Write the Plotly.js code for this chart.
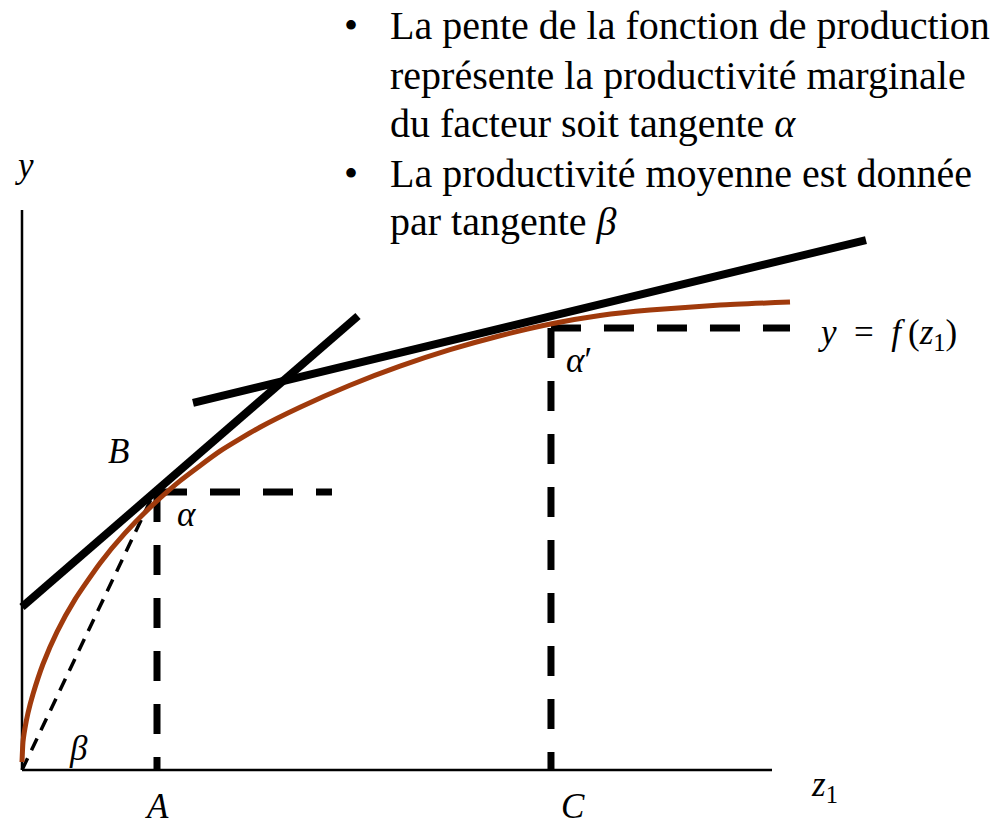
<!DOCTYPE html>
<html>
<head>
<meta charset="utf-8">
<script src="https://cdn.plot.ly/plotly-3.0.1.min.js"></script>
<style>
  html, body { margin: 0; padding: 0; background: #ffffff; }
  #chart { width: 1008px; height: 825px; }
</style>
</head>
<body>
<div id="chart"></div>
<script>
// Production function y = f(z1), in schematic units (axes run from 0 to 10)
const curveZ = [0, 0.013, 0.04, 0.08, 0.147, 0.28, 0.467, 0.707, 1.04, 1.373, 1.747, 2.107, 2.64, 3.173, 3.707, 4.373, 5.04, 5.707, 6.373, 7.08, 7.707, 8.373, 9.307, 10.24];
const curveY = [0.143, 0.5, 0.75, 1.018, 1.357, 1.893, 2.468, 3.046, 3.693, 4.229, 4.739, 5.164, 5.693, 6.121, 6.479, 6.871, 7.211, 7.505, 7.755, 7.973, 8.116, 8.214, 8.302, 8.357];

// Axis extents
const axisZ = [0, 10];
const axisY = [0, 10];

// Points A and C on the z1 axis and their outputs
const zA = 1.8;
const yA = 4.964;
const zC = 7.053;
const yC = 7.893;
const guideEndA = 4.133;
const guideEndC = 10.24;

// Tangent at B (slope = marginal productivity, angle alpha)
const tanBZ = [0, 4.48];
const tanBY = [2.91, 8.107];
// Tangent near C (angle alpha')
const tanCZ = [2.28, 11.253];
const tanCY = [6.554, 9.464];
// Ray from the origin to B (average productivity, angle beta)
const rayZ = [0, 1.747];
const rayY = [0, 4.911];

const bullets = [
  'La pente de la fonction de production',
  'représente la productivité marginale',
  'du facteur soit tangente <i>α</i>',
  'La productivité moyenne est donnée',
  'par tangente <i>β</i>'
];
const bulletStarts = [true, false, false, true, false];

const W = 1008, H = 825;
const px = x => x / W;
const py = y => 1 - y / H;

const black = '#000000';
const brown = '#a03a0c';

const traces = [
  // axes
  { x: [axisZ[0], axisZ[0]], y: axisY, mode: 'lines', line: { color: black, width: 2.5 } },
  { x: axisZ, y: [axisY[0], axisY[0]], mode: 'lines', line: { color: black, width: 2.5 } },
  // dashed guides at A
  { x: [zA, zA], y: [yA, 0], mode: 'lines', line: { color: black, width: 7, dash: '30px,23px' } },
  { x: [zA, guideEndA], y: [yA, yA], mode: 'lines', line: { color: black, width: 7, dash: '30px,23px' } },
  // dashed guides at C
  { x: [zC, zC], y: [yC, 0], mode: 'lines', line: { color: black, width: 7, dash: '30px,23px' } },
  { x: [zC, guideEndC], y: [yC, yC], mode: 'lines', line: { color: black, width: 7, dash: '30px,23px' } },
  // ray from origin
  { x: rayZ, y: rayY, mode: 'lines', line: { color: black, width: 3.5, dash: '13px,9px' } },
  // production curve
  { x: curveZ, y: curveY, mode: 'lines', line: { color: brown, width: 5, shape: 'spline', smoothing: 0.5 } },
  // tangents
  { x: tanBZ, y: tanBY, mode: 'lines', line: { color: black, width: 8 } },
  { x: tanCZ, y: tanCY, mode: 'lines', line: { color: black, width: 8 } }
];

const mathFont = { family: 'Liberation Serif, Times New Roman, serif', size: 35, color: black };
const textFont = { family: 'Liberation Serif, Times New Roman, serif', size: 40, color: black };

function label(text, x, y) {
  return {
    text: text, xref: 'paper', yref: 'paper', x: px(x), y: py(y),
    xanchor: 'center', yanchor: 'middle', showarrow: false, font: mathFont
  };
}

const annotations = [
  label('<i>y</i>', 24, 166),
  label('<i>B</i>', 118, 451),
  label('<i>α</i>', 186, 514),
  label('<i>β</i>', 78, 748),
  label('<i>α</i>′', 579, 361),
  label('<i>z</i><sub>1</sub>', 824, 786),
  label('<i>y</i>\u2002=\u2002<i>f</i>\u2009(<i>z</i><sub>1</sub>)', 887, 335),
  { text: '<i>A</i>', xref: 'x', yref: 'paper', x: zA, y: py(806), xanchor: 'center', yanchor: 'middle', showarrow: false, font: mathFont },
  { text: '<i>C</i>', xref: 'x', yref: 'paper', x: zC + 0.3, y: py(806), xanchor: 'center', yanchor: 'middle', showarrow: false, font: mathFont }
];

const lineTop = 26, lineGap = 49;
bullets.forEach((t, i) => {
  const yy = lineTop + i * lineGap;
  annotations.push({
    text: t, xref: 'paper', yref: 'paper', x: px(388), y: py(yy),
    xanchor: 'left', yanchor: 'middle', showarrow: false, font: textFont
  });
  if (bulletStarts[i]) {
    annotations.push({
      text: '•', xref: 'paper', yref: 'paper', x: px(351), y: py(yy),
      xanchor: 'center', yanchor: 'middle', showarrow: false, font: textFont
    });
  }
});

const layout = {
  width: W, height: H,
  margin: { l: 0, r: 0, t: 0, b: 0 },
  paper_bgcolor: '#ffffff',
  plot_bgcolor: '#ffffff',
  showlegend: false,
  xaxis: { range: [-22 / 75, 986 / 75], visible: false, fixedrange: true },
  yaxis: { range: [-55 / 56, 770 / 56], visible: false, fixedrange: true },
  annotations: annotations
};

Plotly.newPlot('chart', traces, layout, { staticPlot: true, displayModeBar: false });
</script>
</body>
</html>
